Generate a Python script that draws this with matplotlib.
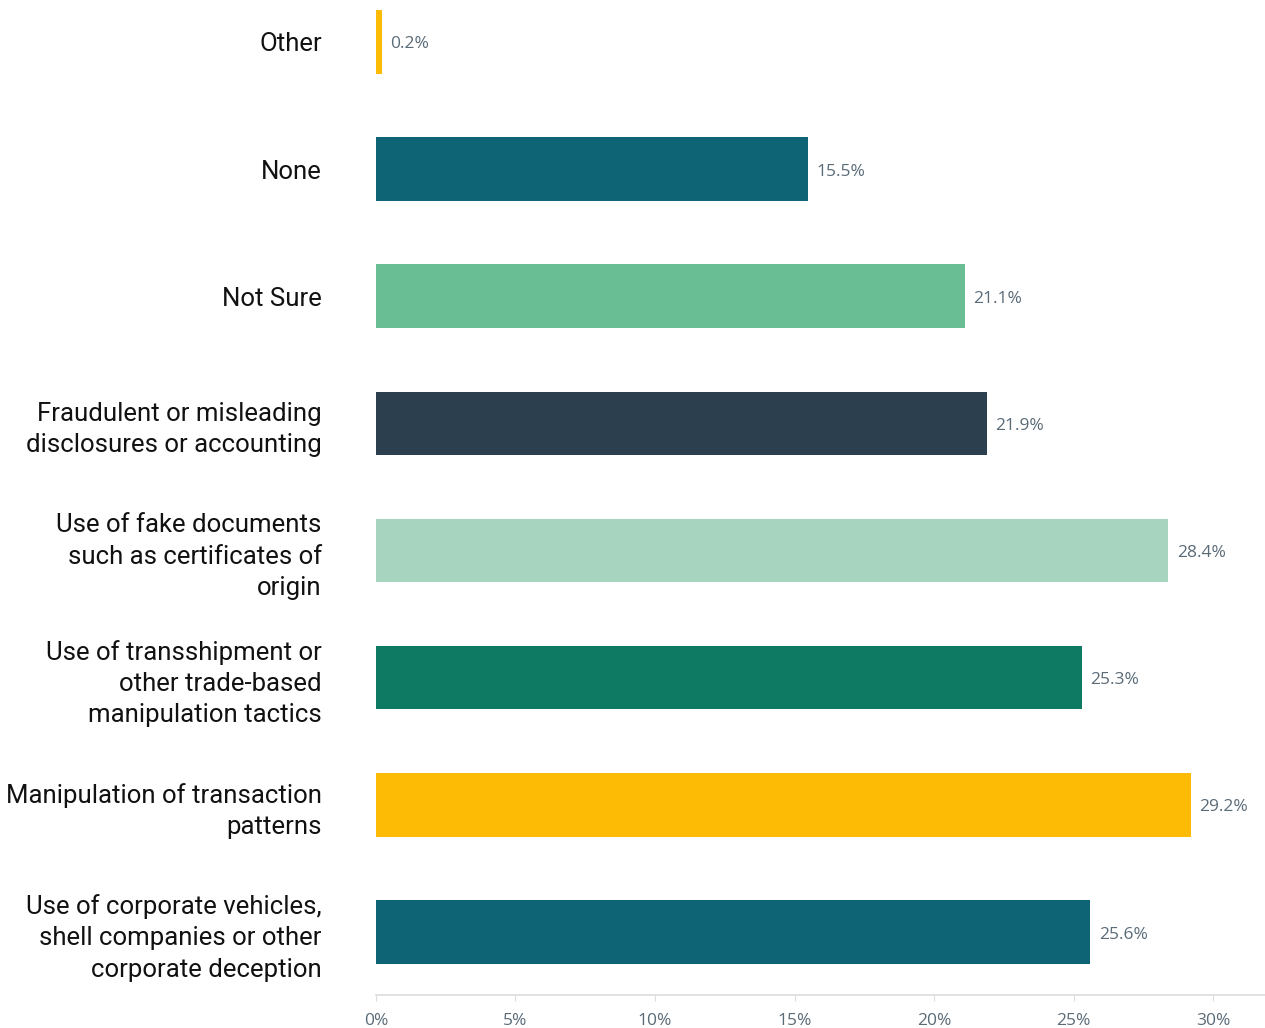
import matplotlib
matplotlib.use("Agg")
import matplotlib.pyplot as plt

# Data, bottom to top
categories = [
    "Use of corporate vehicles,\nshell companies or other\ncorporate deception",
    "Manipulation of transaction\npatterns",
    "Use of transshipment or\nother trade-based\nmanipulation tactics",
    "Use of fake documents\nsuch as certificates of\norigin",
    "Fraudulent or misleading\ndisclosures or accounting",
    "Not Sure",
    "None",
    "Other",
]
values = [25.6, 29.2, 25.3, 28.4, 21.9, 21.1, 15.5, 0.2]
colors = ["#0E6374", "#FDBB05", "#0E7A64", "#A6D4BE",
          "#2B3F4E", "#69BF93", "#0E6374", "#FDBB05"]
ticks = [0, 5, 10, 15, 20, 25, 30]

fig = plt.figure(figsize=(12.65, 10.28), dpi=100)
ax = fig.add_axes([0.2972, 0.0321, 0.7028, 0.968])

y = list(range(len(values)))
ax.barh(y, values, height=0.5, color=colors)

for yi, v in zip(y, values):
    ax.text(v + 0.3, yi - 0.02, f"{v}%", va="center", ha="left",
            fontsize=12.5, color="#5A6B78", family="Open Sans")

ax.set_yticks(y)
ax.set_yticklabels(categories, fontsize=18.5, family="Roboto",
                   color="#111111", linespacing=1.37)
ax.tick_params(axis="y", length=0, pad=39)

ax.set_xlim(0, 31.86)
ax.set_ylim(-0.4955, 7.33)
ax.set_xticks(ticks)
ax.set_xticklabels([f"{t}%" for t in ticks], fontsize=12.5,
                   family="Open Sans", color="#5A6B78")
ax.tick_params(axis="x", length=4, color="#DDDDDD", pad=9)

for side in ["top", "right", "left"]:
    ax.spines[side].set_visible(False)
ax.spines["bottom"].set_color("#DDDDDD")
ax.spines["bottom"].set_linewidth(1.2)

fig.savefig("out.png", dpi=100)
